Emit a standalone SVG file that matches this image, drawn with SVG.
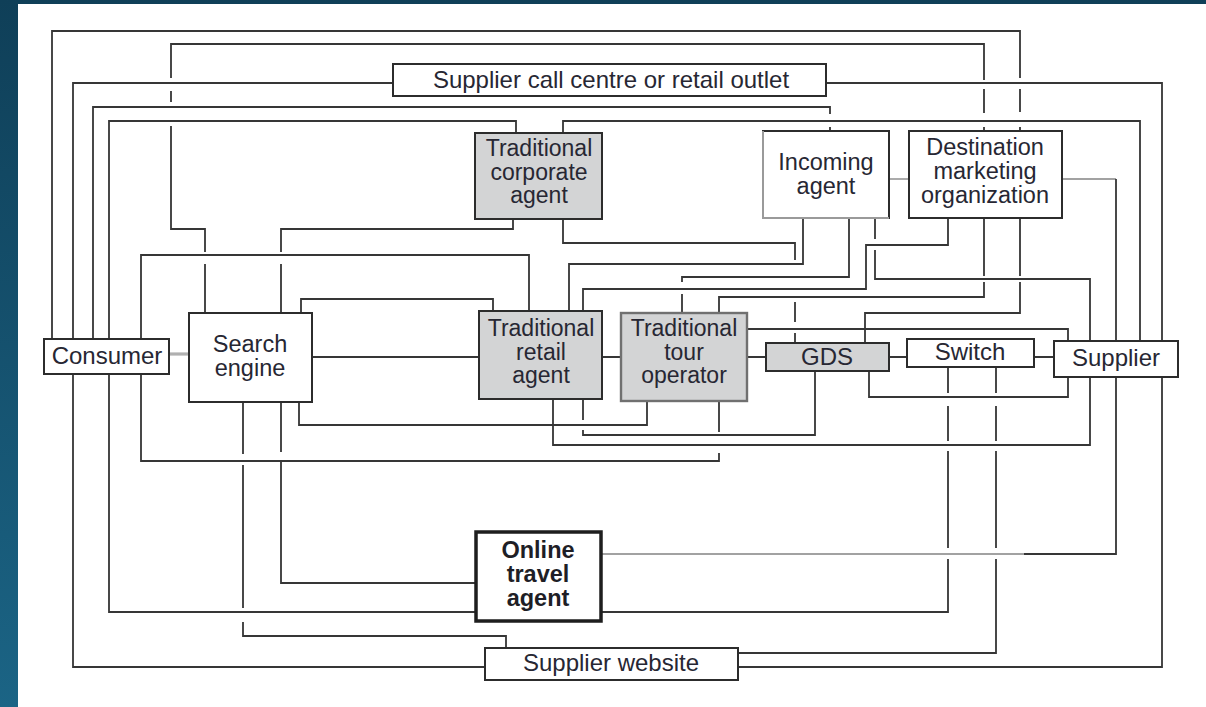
<svg xmlns="http://www.w3.org/2000/svg" width="1206" height="707" viewBox="0 0 1206 707">
  <defs>
    <linearGradient id="bg" x1="0" y1="0" x2="0" y2="1">
      <stop offset="0" stop-color="#0f3f58"/>
      <stop offset="1" stop-color="#1b6485"/>
    </linearGradient>
    <style>
      .ln { fill: none; stroke: #363636; stroke-width: 1.8; stroke-linejoin: miter; }
      .lg { fill: none; stroke: #a2a2a2; stroke-width: 1.8; }
      .lgt { fill: none; stroke: #b0b0b0; stroke-width: 3.2; }
      .box { fill: #ffffff; stroke: #2c2c2c; stroke-width: 2; }
      .grey { fill: #d3d4d5; stroke: #2c2c2c; stroke-width: 2; }
      .lbl { font-family: "Liberation Sans", Arial, sans-serif; font-size: 24px; fill: #272733; text-anchor: middle; }
      .sm { font-size: 23px; }
      .md { font-size: 23.5px; }
      .bold { font-weight: bold; fill: #1e1e26; }
    </style>
  </defs>

  <!-- backdrop and page -->
  <rect x="0" y="0" width="1206" height="707" fill="url(#bg)"/>
  <rect x="18" y="4" width="1188" height="703" fill="#ffffff"/>

  <!-- connectors (gaps mark line jumps over crossing lines) -->
  <g id="connectors">
    <!-- consumer to GDS, around the top and behind the DMO -->
    <path class="ln" d="M52 339V31H1020V78M1020 89V112M1020 127V131M1020 218V276M1020 282V313H865V343"/>
    <!-- call centre loop: left side to supplier website -->
    <path class="ln" d="M393 83H73V667H485"/>
    <!-- call centre loop: right side to supplier website -->
    <path class="ln" d="M826 83H1162V667H738"/>
    <!-- consumer to incoming agent -->
    <path class="ln" d="M93 339V107H830V114M830 127V131"/>
    <!-- consumer to corporate agent -->
    <path class="ln" d="M109 339V121H516V133"/>
    <!-- consumer to online travel agent -->
    <path class="ln" d="M109 374V612H476"/>
    <!-- consumer to retail agent -->
    <path class="ln" d="M141 339V255H529V311"/>
    <!-- consumer to tour operator -->
    <path class="ln" d="M141 374V461H719V453M719 432V401"/>
    <!-- consumer to search engine -->
    <path class="lgt" d="M169 354H189"/>
    <!-- search engine to tour operator, across the top -->
    <path class="ln" d="M205 313V264M205 252V229H171V126M171 102V91M171 78V44H984V80M984 89V113M984 127V131M984 218V276M984 282V297H719V313"/>
    <!-- search engine to corporate agent -->
    <path class="ln" d="M281 313V264M281 252V229H513V219"/>
    <!-- search engine to retail agent -->
    <path class="ln" d="M301 313V299H493V311"/>
    <path class="ln" d="M312 357H479"/>
    <!-- search engine to tour operator, below -->
    <path class="ln" d="M299 402V425H647V401"/>
    <!-- search engine to online travel agent -->
    <path class="ln" d="M281 402V452M281 462V583H476"/>
    <!-- search engine to supplier website -->
    <path class="ln" d="M243 402V454M243 465V608M243 622V636H506V648"/>
    <!-- corporate agent to supplier -->
    <path class="ln" d="M563 133V121H1140V341"/>
    <!-- corporate agent to GDS -->
    <path class="ln" d="M563 219V243H795V260M795 302V322M795 333V343"/>
    <!-- incoming agent links -->
    <path class="ln" d="M803 218V264H569V311"/>
    <path class="ln" d="M849 218V277H682V282M682 294V313"/>
    <path class="ln" d="M875 218V239M875 250V279H1090V341"/>
    <path class="lg" d="M889 179H909"/>
    <!-- DMO to retail agent -->
    <path class="ln" d="M948 218V245H866V289H583V311"/>
    <!-- DMO to supplier -->
    <path class="lg" d="M1062 179H1116"/>
    <path class="ln" d="M1116 179V341"/>
    <!-- middle row -->
    <path class="ln" d="M602 357H621M747 357H766M889 357H907M1034 357H1054"/>
    <path class="ln" d="M747 329H1068V341"/>
    <!-- lower links -->
    <path class="ln" d="M869 371V397H1068V377"/>
    <path class="ln" d="M553 399V445H1090V377"/>
    <path class="ln" d="M583 399V420M583 430V435H815V371"/>
    <path class="ln" d="M948 367V393M948 406V441M948 451V548M948 559V612H601"/>
    <path class="ln" d="M996 367V393M996 406V441M996 451V548M996 559V653H738"/>
    <!-- supplier to online travel agent -->
    <path class="ln" d="M1116 377V554H1024"/>
    <path class="lg" d="M1024 554H601"/>
  </g>

  <!-- nodes -->
  <g id="call-centre">
    <rect class="box" x="393" y="64" width="433" height="32"/>
    <text class="lbl" x="611" y="88">Supplier call centre or retail outlet</text>
  </g>
  <g id="corporate-agent">
    <rect class="grey" x="475" y="133" width="127" height="86"/>
    <text class="lbl sm" y="156"><tspan x="539">Traditional</tspan><tspan x="539" dy="23.5">corporate</tspan><tspan x="539" dy="23.5">agent</tspan></text>
  </g>
  <g id="incoming-agent">
    <rect class="box" x="763" y="131" width="126" height="87"/>
    <path d="M763 131V218H889" fill="none" stroke="#9a9a9a" stroke-width="2"/>
    <text class="lbl md" y="170"><tspan x="826">Incoming</tspan><tspan x="826" dy="24">agent</tspan></text>
  </g>
  <g id="dmo">
    <rect class="box" x="909" y="131" width="153" height="87"/>
    <text class="lbl md" y="155"><tspan x="985">Destination</tspan><tspan x="985" dy="24">marketing</tspan><tspan x="985" dy="24">organization</tspan></text>
  </g>
  <g id="consumer">
    <rect class="box" x="44" y="339" width="125" height="35"/>
    <text class="lbl" x="107" y="364">Consumer</text>
  </g>
  <g id="search-engine">
    <rect class="box" x="189" y="313" width="123" height="89"/>
    <text class="lbl md" y="352"><tspan x="250">Search</tspan><tspan x="250" dy="24">engine</tspan></text>
  </g>
  <g id="retail-agent">
    <rect class="grey" x="479" y="311" width="123" height="88"/>
    <text class="lbl sm" y="336"><tspan x="541">Traditional</tspan><tspan x="541" dy="23.5">retail</tspan><tspan x="541" dy="23.5">agent</tspan></text>
  </g>
  <g id="tour-operator">
    <rect x="621" y="313" width="126" height="88" fill="#d3d4d5" stroke="#707070" stroke-width="2.4"/>
    <text class="lbl sm" y="336"><tspan x="684">Traditional</tspan><tspan x="684" dy="23.5">tour</tspan><tspan x="684" dy="23.5">operator</tspan></text>
  </g>
  <g id="gds">
    <rect class="grey" x="766" y="343" width="123" height="28"/>
    <text class="lbl" x="827" y="365">GDS</text>
  </g>
  <g id="switch">
    <rect class="box" x="907" y="339" width="127" height="28"/>
    <text class="lbl" x="970" y="360">Switch</text>
  </g>
  <g id="supplier">
    <rect class="box" x="1054" y="341" width="124" height="36"/>
    <text class="lbl" x="1116" y="366">Supplier</text>
  </g>
  <g id="online-travel-agent">
    <rect x="476" y="532" width="125" height="89" fill="#ffffff" stroke="#1e1e1e" stroke-width="3.5"/>
    <text class="lbl md bold" y="558"><tspan x="538">Online</tspan><tspan x="538" dy="24">travel</tspan><tspan x="538" dy="24">agent</tspan></text>
  </g>
  <g id="supplier-website">
    <rect class="box" x="485" y="648" width="253" height="32"/>
    <text class="lbl" x="611" y="671">Supplier website</text>
  </g>
</svg>
